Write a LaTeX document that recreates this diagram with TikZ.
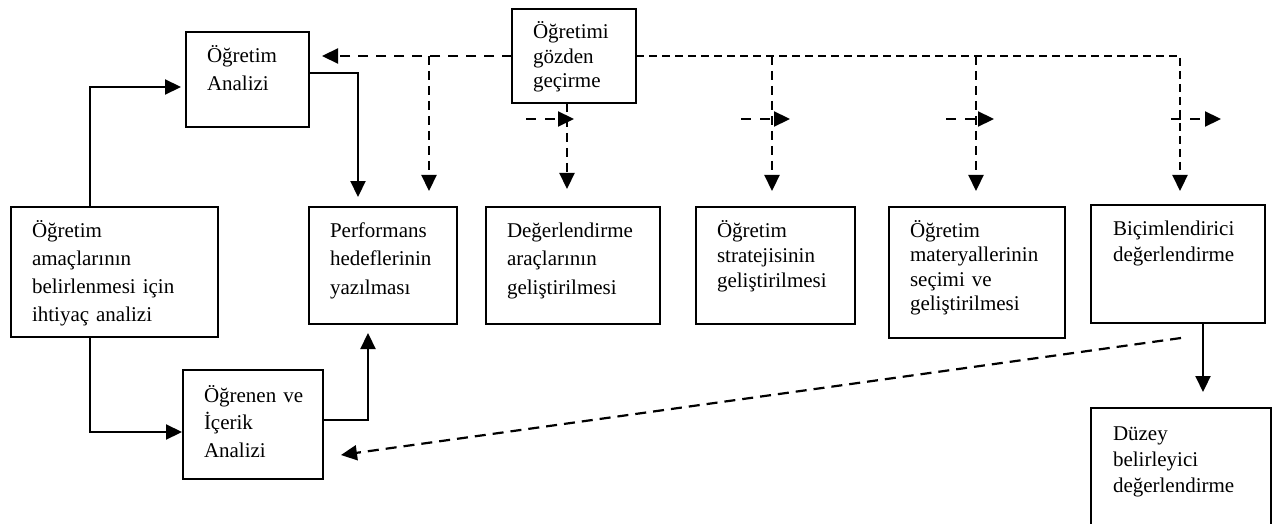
\documentclass[tikz,border=0pt]{standalone}
\usepackage{fontspec}
\setmainfont{Liberation Serif}
\usetikzlibrary{arrows.meta,calc}

\tikzset{
  box/.style={draw, line width=2.1pt, inner sep=0pt, outer sep=0pt, rectangle},
  txt/.style={anchor=base west, inner sep=0pt, outer sep=0pt, text width=220pt,
              align=left, font=\fontsize{21}{28}\selectfont},
  lead/.style={font=\fontsize{21}{#1}\selectfont},
  tip/.style={-{Triangle[length=16pt,width=15pt]}},
  arr/.style={tip, line width=2.2pt},
  darr/.style={tip, line width=2.2pt, dash pattern=on 9pt off 6pt},
  longdash/.style={dash pattern=on 10pt off 8pt},
  shortdash/.style={dash pattern=on 8pt off 5pt},
}

\begin{document}
\begin{tikzpicture}[x=1pt, y=-1pt]
\useasboundingbox (0,0) rectangle (1272,524);

% boxes
\node[box, minimum width=207pt, minimum height=130pt] (need)   at (114.5,272)  {};
\node[box, minimum width=123pt, minimum height=95pt]  (ta)     at (247.5,79.5) {};
\node[box, minimum width=140pt, minimum height=109pt] (oi)     at (253,424.5)  {};
\node[box, minimum width=148pt, minimum height=117pt] (perf)   at (383,265.5)  {};
\node[box, minimum width=124pt, minimum height=94pt]  (gozden) at (574,56)     {};
\node[box, minimum width=174pt, minimum height=117pt] (deg)    at (573,265.5)  {};
\node[box, minimum width=159pt, minimum height=117pt] (strat)  at (775.5,265.5){};
\node[box, minimum width=176pt, minimum height=131pt] (mat)    at (977,272.5)  {};
\node[box, minimum width=174pt, minimum height=118pt] (bic)    at (1178,264)   {};
\node[box, minimum width=180pt, minimum height=152pt] (duz)    at (1181,484)   {};

% box texts
\node[txt] (needT)   at ($(need.north west)+(21,30)$)   {Öğretim\\amaçlarının\\belirlenmesi için\\ihtiyaç analizi};
\node[txt] (taT)     at ($(ta.north west)+(21,31)$)     {Öğretim\\Analizi};
\node[txt, lead=27.5] (oiT) at ($(oi.north west)+(21,32)$) {Öğrenen ve\\İçerik\\Analizi};
\node[txt, lead=28.5] (perfT) at ($(perf.north west)+(21,30)$) {Performans\\hedeflerinin\\yazılması};
\node[txt, lead=24.5] (gozdenT) at ($(gozden.north west)+(21,30)$) {Öğretimi\\gözden\\geçirme};
\node[txt, lead=28.5] (degT) at ($(deg.north west)+(21,30)$) {Değerlendirme\\araçlarının\\geliştirilmesi};
\node[txt, lead=25] (stratT) at ($(strat.north west)+(21,30)$) {Öğretim\\stratejisinin\\geliştirilmesi};
\node[txt, lead=24.5] (matT) at ($(mat.north west)+(21,30)$) {Öğretim\\materyallerinin\\seçimi ve\\geliştirilmesi};
\node[txt, lead=26] (bicT) at ($(bic.north west)+(22,30)$) {Biçimlendirici\\değerlendirme};
\node[txt, lead=26] (duzT) at ($(duz.north west)+(22,32)$) {Düzey\\belirleyici\\değerlendirme};

% routing points
\coordinate (c1) at (90,87);
\coordinate (c2) at (90,432);
\coordinate (c3) at (358,73);
\coordinate (c4) at (368,420);
\coordinate (j1) at (429,56);
\coordinate (j2) at (772,56);
\coordinate (j3) at (976,56);
\coordinate (j4) at (1180,56);
\coordinate (j5) at (567,0);
\coordinate (j6) at (1203,0);

% solid connectors
\draw[arr, shorten >=5pt]  (need.north -| c1) |- (ta.west |- c1);
\draw[arr, shorten >=1pt]  (need.south -| c2) |- (oi.west |- c2);
\draw[arr, shorten >=10pt] (ta.east |- c3) -| (perf.north -| c3);
\draw[arr, shorten >=9pt]  (oi.east |- c4) -| (perf.south -| c4);
\draw[arr, shorten >=16pt] (bic.south -| j6) -- (duz.north -| j6);

% revision feedback lines
\draw[darr, longdash, shorten >=13pt] (gozden.west) -- (ta.east |- gozden.west);
\draw[darr, shorten >=16pt] (j1) -- (perf.north -| j1);
\draw[darr, shorten >=18pt] (gozden.south -| j5) -- (deg.north -| j5);
\draw[darr, shortdash, shorten >=14pt] (gozden.east) -- (j4) -- (bic.north -| j4);
\draw[darr, shorten >=16pt] (j2) -- (strat.north -| j2);
\draw[darr, shorten >=16pt] (j3) -- (mat.north -| j3);

% short side arrows
\coordinate (s1) at (526,119); \coordinate (e1) at (574,119);
\coordinate (s2) at (741,119); \coordinate (e2) at (790,119);
\coordinate (s3) at (946,119); \coordinate (e3) at (994,119);
\coordinate (s4) at (1171,119); \coordinate (e4) at (1221,119);
\foreach \i in {1,2,3,4}
  \draw[darr, dash pattern=on 10pt off 9pt] (s\i) -- (e\i);

% summative feedback to learner analysis
\draw[darr, dash pattern=on 11pt off 7pt]
  ($(bic.south west)+(90,15)$) -- ($(oi.south east)+(18,-24)$);
\end{tikzpicture}
\end{document}
